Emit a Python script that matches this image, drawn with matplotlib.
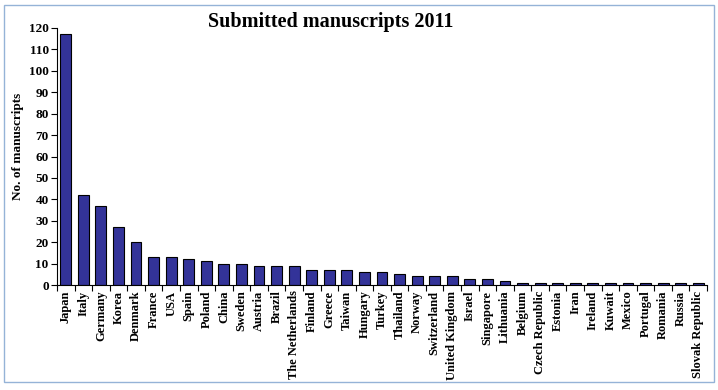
import matplotlib
matplotlib.use('Agg')
import matplotlib.pyplot as plt
import numpy as np
from matplotlib.patches import Rectangle

countries = ['Japan', 'Italy', 'Germany', 'Korea', 'Denmark', 'France', 'USA', 'Spain',
             'Poland', 'China', 'Sweden', 'Austria', 'Brazil', 'The Netherlands', 'Finland',
             'Greece', 'Taiwan', 'Hungary', 'Turkey', 'Thailand', 'Norway', 'Switzerland',
             'United Kingdom', 'Israel', 'Singapore', 'Lithuania', 'Belgium', 'Czech Republic',
             'Estonia', 'Iran', 'Ireland', 'Kuwait', 'Mexico', 'Portugal', 'Romania', 'Russia',
             'Slovak Republic']
manuscripts = [117, 42, 37, 27, 20, 13, 13, 12, 11, 10, 10, 9, 9, 9, 7, 7, 7, 6, 6, 5,
               4, 4, 4, 3, 3, 2, 1, 1, 1, 1, 1, 1, 1, 1, 1, 1, 1]
yticks = list(range(0, 121, 10))

plt.rcParams['font.family'] = ['Liberation Serif', 'DejaVu Serif']
plt.rcParams['font.weight'] = 'bold'

fig = plt.figure(figsize=(7.18, 3.9), dpi=100)
fig.patches.append(Rectangle((4 / 718, 1 - 382 / 390), 710 / 718, 377 / 390,
                             transform=fig.transFigure, fill=False,
                             edgecolor='#95b3d7', linewidth=1))
ax = fig.add_axes([57 / 718, 1 - 285 / 390, 650 / 718, 257 / 390])

x = np.arange(len(countries))
ax.bar(x, manuscripts, width=0.62, color='#333399', edgecolor='black', linewidth=0.8)

ax.set_xlim(-0.5, len(countries) - 0.5)
ax.set_ylim(0, 120)
ax.set_yticks(yticks)
ax.tick_params(axis='y', labelsize=9.5, length=4, width=0.8, direction='out', pad=2)
ax.set_xticks(x)
ax.set_xticklabels(countries, rotation=90, fontsize=9)
ax.tick_params(axis='x', which='major', length=0, pad=4)
ax.set_xticks(np.arange(-0.5, len(countries), 1), minor=True)
ax.tick_params(axis='x', which='minor', length=4, width=0.8, direction='out')

for s in ['top', 'right']:
    ax.spines[s].set_visible(False)
for s in ['left', 'bottom']:
    ax.spines[s].set_linewidth(0.8)

ax.set_ylabel('No. of manuscripts', fontsize=9.5, fontweight='bold')
ax.yaxis.set_label_coords(-0.05, 0.54)
fig.text(331 / 718, 1 - 22 / 390, 'Submitted manuscripts 2011', fontsize=14.5,
         fontweight='bold', ha='center', va='center')

fig.savefig('out.png', dpi=100)
